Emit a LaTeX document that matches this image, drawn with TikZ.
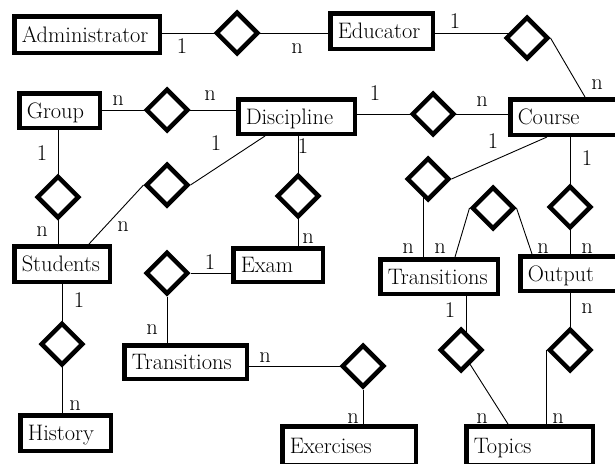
\RequirePackage{fix-cm}
\documentclass[tikz,border=0pt]{standalone}
\usetikzlibrary{shapes.geometric,backgrounds}
\begin{document}
\begin{tikzpicture}[x=1pt,y=-1pt,
  every node/.style={font=\rmfamily\fontsize{22.4pt}{25pt}\selectfont},
  ent/.style={draw, line width=4.5pt, fill=white, inner xsep=7.5pt, inner ysep=2pt,
    align=left, text height=15.3pt, text depth=0pt},
  rel/.style={diamond, draw, line width=4.5pt, fill=white, aspect=1,
    minimum width=42.5pt, minimum height=42.5pt, inner sep=0pt},
  link/.style={line width=0.9pt},
  card/.style={anchor=base, inner sep=0pt}]
\useasboundingbox (0,0) rectangle (615,463);

% entities
\node[ent, text width=130.5pt, minimum height=36.5pt] (adm) at (87,34.5) {Administrator};
\node[ent, text width=87.5pt,  minimum height=35.5pt] (edu) at (381.5,31) {Educator};
\node[ent, text width=65.5pt,  minimum height=34.5pt] (grp) at (59.5,110.5) {Group};
\node[ent, text width=101.5pt, minimum height=34.5pt] (dis) at (296.5,116.5) {Discipline};
\node[ent, text width=92.5pt,  minimum height=35.5pt] (crs) at (564,117) {Course};
\node[ent, text width=80.5pt,  minimum height=35.5pt] (stu) at (62,264) {Students};
\node[ent, text width=74.5pt,  minimum height=33.5pt] (exm) at (278,265) {Exam};
\node[ent, text width=107.5pt, minimum height=33.5pt] (trL) at (185.5,362) {Transitions};
\node[ent, text width=102.5pt, minimum height=34.5pt] (trR) at (439,276.5) {Transitions};
\node[ent, text width=82.5pt,  minimum height=34.5pt] (out) at (569,273.5) {Output};
\node[ent, text width=75.5pt,  minimum height=35.5pt] (his) at (65.5,433) {History};
\node[ent, text width=118.5pt, minimum height=38.5pt] (exe) at (349,445.5) {Exercises};
\node[ent, text width=111.5pt, minimum height=38.5pt] (top) at (529.5,445.5) {Topics};

% relationships
\node[rel] (d1)  at (237,33) {};
\node[rel] (d2)  at (527,38) {};
\node[rel] (d3)  at (167,110) {};
\node[rel] (d4)  at (433,114) {};
\node[rel] (d5)  at (58,197) {};
\node[rel] (d6)  at (167,185) {};
\node[rel] (d7)  at (298,196) {};
\node[rel] (d8)  at (167,273) {};
\node[rel] (d9)  at (62,344) {};
\node[rel] (d10) at (363,366) {};
\node[rel] (d11) at (428,179) {};
\node[rel] (d12) at (493,208) {};
\node[rel] (d13) at (570,207) {};
\node[rel] (d14) at (570,350) {};
\node[rel] (d15) at (461,350) {};

% cardinalities
\node[card] (c1)  at (182,53) {1};
\node[card] (c2)  at (297,53) {n};
\node[card] (c3)  at (455,28) {1};
\node[card] (c4)  at (597,89) {n};
\node[card] (c5)  at (118,105) {n};
\node[card] (c6)  at (210,100) {n};
\node[card] (c7)  at (375,100) {1};
\node[card] (c8)  at (482,106) {n};
\node[card] (c9)  at (42,160) {1};
\node[card] (c10) at (216,150) {1};
\node[card] (c11) at (303,153) {1};
\node[card] (c12) at (493,148) {1};
\node[card] (c13) at (587,165) {1};
\node[card] (c14) at (42,236) {n};
\node[card] (c15) at (123,231) {n};
\node[card] (c16) at (308,243) {n};
\node[card] (c17) at (210,269) {1};
\node[card] (c18) at (408,253) {n};
\node[card] (c19) at (440,253) {n};
\node[card] (c20) at (543,253) {n};
\node[card] (c21) at (587,253) {n};
\node[card] (c22) at (79,307) {1};
\node[card] (c23) at (152,334) {n};
\node[card] (c24) at (265,362) {n};
\node[card] (c25) at (450,317) {1};
\node[card] (c26) at (587,313) {n};
\node[card] (c27) at (75,410) {n};
\node[card] (c28) at (353,423) {n};
\node[card] (c29) at (482,423) {n};
\node[card] (c30) at (558,423) {n};

% connectors, kept behind the shapes
\begin{pgfonlayer}{background}
\draw[link] (adm.east |- d1) -- (edu.west |- d1);
\draw[link] (edu.east |- d1) -- (d2 |- d1);
\draw[link] (d2.east) -- ([xshift=21pt]crs.north);
\draw[link] (grp.east |- d3) -- (dis.west |- d3);
\draw[link] (dis.east |- d4) -- (crs.west |- d4);
\draw[link] (grp.south -| d5) -- (stu.north -| d5);
\draw[link] (d6.east) -- ([xshift=-31.5pt]dis.south);
\draw[link] (d6.west) -- ([xshift=27pt]stu.north);
\draw[link] (dis.south -| d7) -- (exm.north -| d7);
\draw[link] (d8) -- (d8 -| exm.west);
\draw[link] (d8) -- (trL.north -| d8);
\draw[link] (stu.south -| d9) -- (his.north -| d9);
\draw[link] (trL.east |- d10) -- (d10);
\draw[link] (d10) -- (exe.north -| d10);
\draw[link] (d11.east) -- ([xshift=-17pt]crs.south);
\draw[link] ([xshift=-5pt]d11.center) -- ([xshift=-5pt]d11.center |- trR.north);
\draw[link] (d12.west) -- ([xshift=16pt]trR.north);
\draw[link] (d12.east) -- ([xshift=-37pt]out.north);
\draw[link] (crs.south -| d13) -- (out.north -| d13);
\draw[link] (out.south -| d14) -- (d14);
\draw[link] (d14.west) -- (top.north -| d14.west);
\draw[link] ([xshift=27pt]trR.south) -- ([xshift=27pt]trR.south |- d15);
\draw[link] (d15) -- ([xshift=-21.5pt]top.north);
\end{pgfonlayer}
\end{tikzpicture}
\end{document}
